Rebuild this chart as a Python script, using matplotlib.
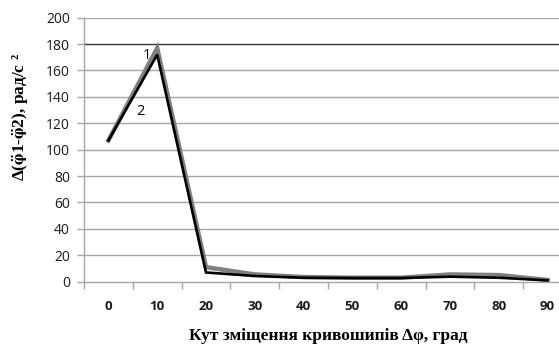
import matplotlib

matplotlib.use("Agg")
import matplotlib.pyplot as plt
import numpy as np

# --- data --------------------------------------------------------------------
angles = [0, 10, 20, 30, 40, 50, 60, 70, 80, 90]
curve1 = [107, 177, 11, 5.5, 3.5, 3, 3, 5.5, 5, 1.3]   # grey, label "1"
curve2 = [107, 172, 7, 4.3, 3, 2.8, 2.8, 3.8, 3, 1.0]  # black, label "2"
yticks = [0, 20, 40, 60, 80, 100, 120, 140, 160, 180, 200]

plt.rcParams["mathtext.fontset"] = "stix"

W, H = 559, 349
fig = plt.figure(figsize=(W / 100, H / 100), dpi=100)
# plot area: left edge x=84, top y=17.7, bottom y=281.7; runs past the right border
ax = fig.add_axes([84 / W, 1 - 281.7 / H, 488 / W, 264 / H])

x = np.arange(len(angles))
ax.plot(x, curve1, color="#7f7f7f", lw=3.2, solid_joinstyle="miter", zorder=3)
ax.plot(x, curve2, color="black", lw=1.9, solid_joinstyle="miter", zorder=4)

ax.set_xlim(-0.5, len(angles) - 0.5)
ax.set_ylim(0, 200)

for v in yticks[1:]:
    c = "#333333" if v == 180 else "#a6a6a6"
    ax.axhline(v, color=c, lw=1.0, zorder=1)

ax.set_yticks(yticks)
ax.set_yticklabels([str(v) for v in yticks], fontsize=10, family="Open Sans",
                   color="#1a1a1a")
ax.tick_params(axis="y", length=5, width=1, color="#a6a6a6", pad=5)

# category axis: ticks between categories, labels centred on categories
ax.set_xticks(np.arange(len(angles) + 1) - 0.5)
ax.set_xticklabels([])
ax.tick_params(axis="x", length=5, width=1, color="#a6a6a6", direction="out")
for i, a in enumerate(angles):
    ax.annotate(str(a), (i, 0), xycoords=("data", "axes fraction"),
                xytext=(0, -25), textcoords="offset pixels",
                ha="center", va="center", fontsize=9.5, fontweight="bold",
                family="Open Sans", color="#1a1a1a")

for s in ["top", "right"]:
    ax.spines[s].set_visible(False)
for s in ["left", "bottom"]:
    ax.spines[s].set_color("#a6a6a6")
    ax.spines[s].set_linewidth(1.0)

ax.text(0.79, 171, "1", fontsize=10.5, family="Open Sans", ha="center", va="center")
ax.text(0.65, 129, "2", fontsize=10.5, family="Open Sans", ha="center", va="center")

fig.text(328 / W, 1 - 336 / H, "Кут зміщення кривошипів Δφ, град",
         ha="center", va="center", fontsize=12.5, fontweight="bold",
         family=["Liberation Serif", "DejaVu Serif"])
fig.text(21 / W, 1 - 117 / H,
         r"Δ($\mathbf{\ddot{\varphi}}$1-$\mathbf{\ddot{\varphi}}$2), рад/с ²",
         ha="center", va="center", rotation=90, fontsize=12.5, fontweight="bold",
         family=["Liberation Serif", "DejaVu Serif"])

fig.savefig("out.png", dpi=100)
